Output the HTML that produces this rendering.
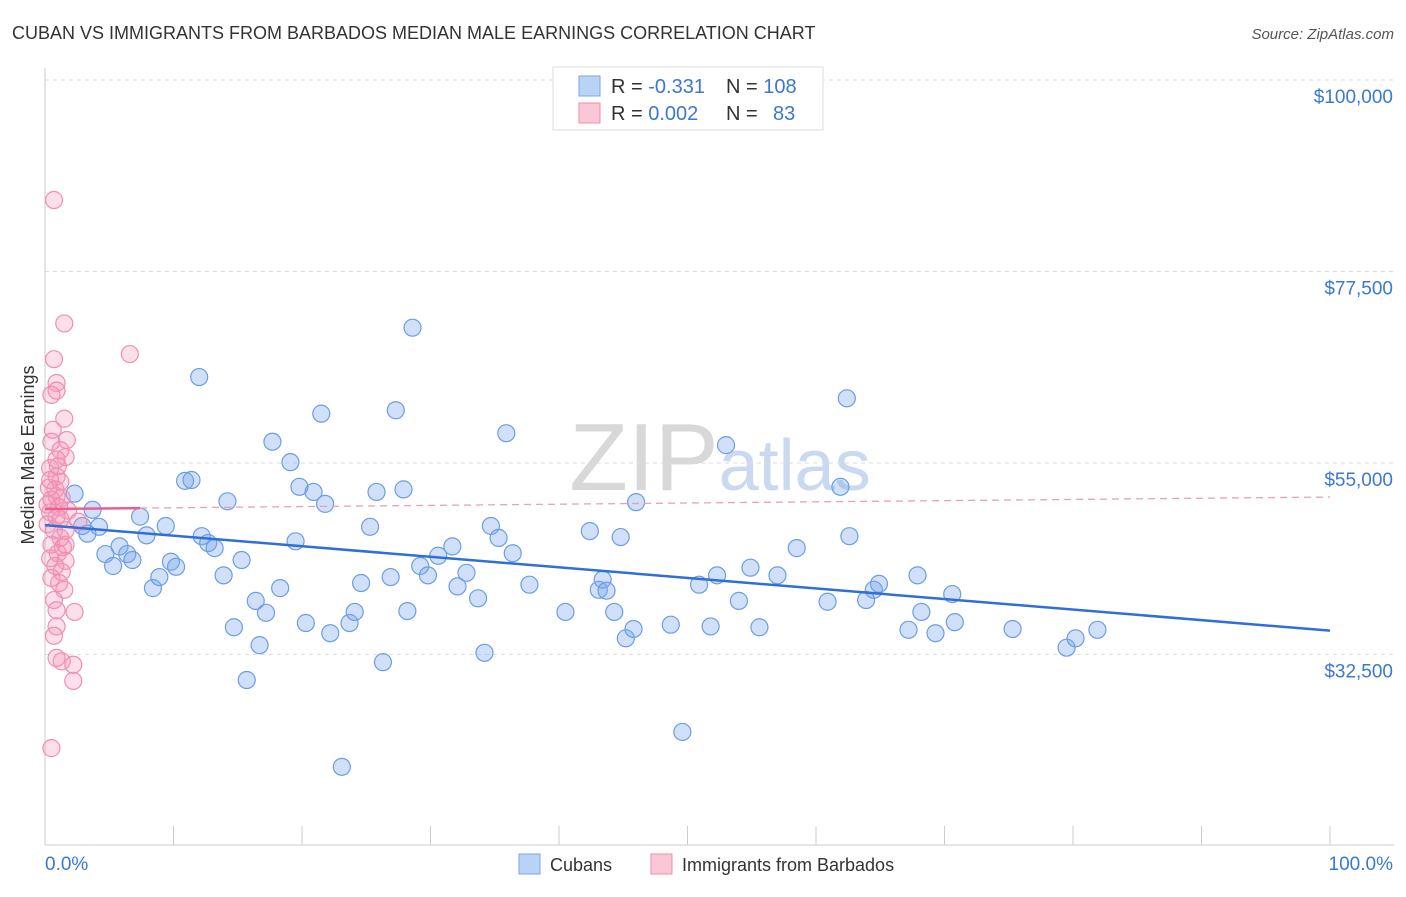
<!DOCTYPE html>
<html><head><meta charset="utf-8"><style>
body{margin:0;background:#fff;font-family:"Liberation Sans",sans-serif;}
svg text{font-family:"Liberation Sans",sans-serif;}
</style></head><body>
<svg id="chart" width="1406" height="892" xmlns="http://www.w3.org/2000/svg">
<text x="12" y="39" font-size="18" fill="#333">CUBAN VS IMMIGRANTS FROM BARBADOS MEDIAN MALE EARNINGS CORRELATION CHART</text>
<text x="1394" y="39" font-size="15" fill="#555" font-style="italic" text-anchor="end">Source: ZipAtlas.com</text>
<text x="720" y="490" font-size="96" fill="#ddd" text-anchor="middle" font-family="Liberation Serif"><tspan fill="#d8d8d8">ZIP</tspan><tspan fill="#c9d9ef" font-family="Liberation Sans" font-size="72">atlas</tspan></text>
<g id="grid"></g>
<g id="axes"></g>
<text transform="translate(34,455) rotate(-90)" font-size="18" fill="#333" text-anchor="middle">Median Male Earnings</text>
<g id="points"></g>
<g id="trends"></g>
<g>
<rect x="553" y="67" width="270" height="63" fill="#fff" stroke="#ddd"/>
<rect x="579" y="76" width="21" height="20" fill="#b9d2f5" stroke="#7aa6e6"/>
<rect x="579" y="103" width="21" height="20" fill="#fbc6d6" stroke="#f08fae"/>
<text x="611" y="93" font-size="20" fill="#333">R = <tspan fill="#3b78d4">-0.331</tspan><tspan x="726">N = </tspan><tspan fill="#3b78d4">108</tspan></text>
<text x="611" y="120" font-size="20" fill="#333">R = <tspan fill="#3b78d4">0.002</tspan><tspan x="726">N = </tspan><tspan x="773" fill="#3b78d4">83</tspan></text>
</g>
<g>
<rect x="519" y="854" width="21" height="20" fill="#b9d2f5" stroke="#7aa6e6"/>
<text x="550" y="871" font-size="18" fill="#333">Cubans</text>
<rect x="651" y="854" width="21" height="20" fill="#fbc6d6" stroke="#f08fae"/>
<text x="682" y="871" font-size="18" fill="#333">Immigrants from Barbados</text>
</g>
</svg>
<script>
const yTicks=[100000,77500,55000,32500];
const yTickLabels=["$100,000","$77,500","$55,000","$32,500"];
const xTickLabels=["0.0%","100.0%"];
const cubanX=[2.3,3.7,2.9,4.2,3.3,4.7,5.3,5.8,6.4,6.8,7.4,7.9,8.4,8.9,9.4,9.8,10.2,10.9,11.4,12.0,12.2,12.7,13.2,13.9,14.2,14.7,15.3,15.7,16.4,16.7,17.2,17.7,18.3,19.1,19.5,19.8,20.3,20.9,21.5,21.8,22.2,23.1,23.7,24.1,24.6,25.3,25.8,26.3,26.9,27.3,27.9,28.2,28.6,29.2,29.8,30.6,31.7,32.1,32.8,33.7,34.2,34.7,35.3,35.9,36.4,37.7,40.5,42.4,43.1,43.4,43.7,44.3,44.8,45.2,45.8,46.0,48.7,49.6,50.9,51.8,52.3,53.0,54.0,54.9,55.6,57.0,58.5,60.9,61.9,62.4,62.6,63.9,64.5,64.9,67.2,67.9,68.2,69.3,70.6,70.8,75.3,79.5,80.2,81.9];
const cubanY=[51.4,49.5,47.6,47.5,46.7,44.3,42.9,45.2,44.3,43.6,48.7,46.5,40.3,41.6,47.6,43.4,42.8,52.9,53.0,65.1,46.4,45.6,45.0,41.8,50.5,35.7,43.6,29.5,38.8,33.6,37.4,57.5,40.3,55.1,45.8,52.2,36.2,51.6,60.8,50.2,35.0,19.3,36.2,37.5,40.9,47.5,51.6,31.6,41.6,61.2,51.9,37.6,70.9,42.9,41.8,44.1,45.2,40.5,42.1,39.1,32.7,47.6,46.2,58.5,44.4,40.7,37.5,47.0,40.1,41.3,40.0,37.5,46.3,34.4,35.5,50.4,36.0,23.4,40.7,35.8,41.8,57.1,38.8,42.7,35.7,41.8,45.0,38.7,52.2,62.6,46.4,38.9,40.1,40.8,35.4,41.8,37.5,35.0,39.6,36.3,35.5,33.3,34.4,35.4];
const barbX=[0.7,1.5,6.6,0.7,0.9,0.9,0.5,1.5,0.6,1.7,1.2,0.5,1.6,1.0,0.4,0.9,1.2,0.3,0.9,1.3,0.5,1.1,1.8,0.4,0.9,0.2,2.6,0.7,1.2,0.5,1.4,1.0,0.4,1.6,0.8,1.3,0.5,1.1,1.5,0.7,2.3,0.9,0.9,0.7,0.9,1.3,2.2,2.2,0.5,0.4,0.8,1.2,1.6,0.2,1.6,0.9];
const barbY=[85.9,71.4,67.8,67.2,64.4,63.5,63.0,60.2,58.9,57.7,56.5,57.5,55.7,54.6,54.4,53.4,52.8,52.1,51.1,50.9,50.7,49.8,49.4,49.2,48.7,47.8,48.1,47.1,46.2,45.4,45.1,44.4,43.8,43.5,42.9,42.2,41.5,40.9,40.1,38.9,37.5,37.7,35.8,34.7,32.1,31.7,31.3,29.4,21.5,53.0,51.9,48.4,45.4,50.1,47.1,55.4];
const cubanTrend=[47.7,35.3];
const barbTrend=[49.6,51.0];
const barbSolidEnd=7.4;

const NS="http://www.w3.org/2000/svg";
const X=p=>45+p*12.85;
const Y=v=>80+(100-v)*191.5/22.5;
function mk(tag,attrs,parent){const e=document.createElementNS(NS,tag);for(const k in attrs)e.setAttribute(k,attrs[k]);parent.appendChild(e);return e;}
const grid=document.getElementById('grid'),axes=document.getElementById('axes');
yTicks.forEach((t,i)=>{
 const l=mk('line',{x1:45,x2:1394,y1:Y(t/1000),y2:Y(t/1000),stroke:'#ddd','stroke-dasharray':'4,4'},grid);
 
 
 const tx=mk('text',{x:1393,y:Y(t/1000)+23,'font-size':19,fill:'#3b78d4','text-anchor':'end'},axes);
 tx.textContent=yTickLabels[i];
 
 
});
const ax=mk('line',{x1:45,x2:1394,y1:845,y2:845,stroke:'#ccc'},axes);


const ay=mk('line',{x1:45,x2:45,y1:68,y2:845,stroke:'#ccc'},axes);


for(let i=0;i<=10;i++){
 const tk=mk('line',{x1:X(i*10),x2:X(i*10),y1:826,y2:845,stroke:'#ccc'},axes);
 
 
}
const xl0=mk('text',{x:45,y:870,'font-size':19,fill:'#3b78d4'},axes);
xl0.textContent=xTickLabels[0];


const xl1=mk('text',{x:1393,y:870,'font-size':19,fill:'#3b78d4','text-anchor':'end'},axes);
xl1.textContent=xTickLabels[1];


const pts=document.getElementById('points');
cubanX.forEach((x,i)=>{
 const c=mk('circle',{cx:X(x),cy:Y(cubanY[i]),r:8.5,fill:'rgba(120,165,235,0.35)',stroke:'#6d9de3','stroke-width':1.2},pts);
 
 
});
barbX.forEach((x,i)=>{
 const c=mk('circle',{cx:X(x),cy:Y(barbY[i]),r:8.5,fill:'rgba(245,150,185,0.3)',stroke:'#ef8fb1','stroke-width':1.2},pts);
 
 
});
const tr=document.getElementById('trends');
const t1=mk('line',{x1:X(0),y1:Y(cubanTrend[0]),x2:X(100),y2:Y(cubanTrend[1]),stroke:'#2f6fd6','stroke-width':2.5},tr);


const bAt=p=>barbTrend[0]+(barbTrend[1]-barbTrend[0])*p/100;
const t2=mk('line',{x1:X(0),y1:Y(bAt(0)),x2:X(barbSolidEnd),y2:Y(bAt(barbSolidEnd)),stroke:'#e8608e','stroke-width':2.5},tr);


const t3=mk('line',{x1:X(barbSolidEnd),y1:Y(bAt(barbSolidEnd)),x2:X(100),y2:Y(bAt(100)),stroke:'#e8a0b8','stroke-width':1.3,'stroke-dasharray':'7,5'},tr);


</script>
</body></html>
